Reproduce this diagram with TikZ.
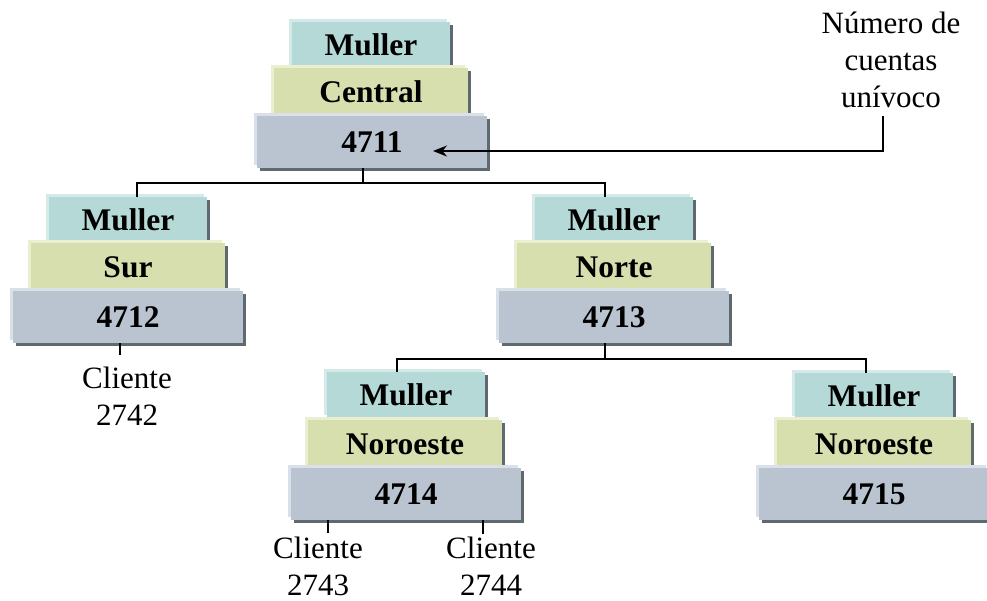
\documentclass[tikz,border=0pt]{standalone}
\usepackage{fontspec}
\setmainfont{Liberation Serif}
\usetikzlibrary{shadows,arrows.meta}
\definecolor{cMul}{HTML}{B4D9D6}
\definecolor{cMulL}{HTML}{D4EAE8}
\definecolor{cMid}{HTML}{D7DFAE}
\definecolor{cMidL}{HTML}{EAEFD2}
\definecolor{cNum}{HTML}{BAC4D0}
\definecolor{cNumL}{HTML}{DAE0E8}
\definecolor{cSh}{HTML}{5E6970}
\tikzset{
  tier/.style={rectangle, inner sep=0pt, anchor=north,
    font=\fontsize{31.5}{36}\selectfont\bfseries,
    general shadow={shadow xshift=3pt, shadow yshift=-3pt, fill=cSh}},
  mulbox/.style={tier, minimum width=158pt, minimum height=46pt, fill=cMul,
    general shadow={shadow xshift=-3pt, shadow yshift=3pt, fill=cMulL}},
  midbox/.style={tier, minimum width=194pt, minimum height=48pt, fill=cMid,
    general shadow={shadow xshift=-3pt, shadow yshift=3pt, fill=cMidL}},
  numbox/.style={tier, minimum width=230pt, minimum height=52pt, fill=cNum,
    general shadow={shadow xshift=-3pt, shadow yshift=3pt, fill=cNumL}},
  lbl/.style={inner sep=0pt, align=center, font=\fontsize{31}{37}\selectfont},
  conn/.style={line width=1.8pt, black}
}
\begin{document}
\begin{tikzpicture}[x=1pt,y=-1pt]
\useasboundingbox (0,0) rectangle (987,600);
% group 4711
\node[mulbox] (m1) at (371,22) {Muller};
\node[midbox] (t1) at (371,68) {Central};
\node[numbox] (n1) at (372,116) {4711};
% group 4712
\node[mulbox] (m2) at (128,197) {Muller};
\node[midbox] (t2) at (128,243) {Sur};
\node[numbox] (n2) at (128,291) {4712};
% group 4713
\node[mulbox] (m3) at (614,197) {Muller};
\node[midbox] (t3) at (614,243) {Norte};
\node[numbox] (n3) at (614,291) {4713};
% group 4714
\node[mulbox] (m4) at (406,372) {Muller};
\node[midbox] (t4) at (405,420) {Noroeste};
\node[numbox] (n4) at (406,468) {4714};
% group 4715
\node[mulbox] (m5) at (874,373) {Muller};
\node[midbox] (t5) at (874,420) {Noroeste};
\node[numbox] (n5) at (874,468) {4715};
% labels
\node[lbl] (c2) at (127,396) {Cliente\\2742};
\node[lbl] (c3) at (318,566) {Cliente\\2743};
\node[lbl] (c4) at (491,566) {Cliente\\2744};
\node[lbl] (lab) at (891,60) {Número de\\cuentas\\unívoco};
% connectors
\coordinate (b1) at (363,183);
\draw[conn] (n1.south -| b1) -- (b1);
\draw[conn] ([xshift=9pt]m2.north) |- (b1) -| ([xshift=-9pt]m3.north);
\coordinate (b2) at (605,359);
\draw[conn] (n3.south -| b2) -- (b2);
\draw[conn] ([xshift=-9pt]m4.north) |- (b2) -| ([xshift=-8pt]m5.north);
\draw[conn, shorten >=12pt] ([xshift=-8pt]n2.south) -- ([xshift=-8pt]n2.south |- c2.north);
\draw[conn, shorten >=3pt] ([xshift=-78pt]n4.south) -- ([xshift=-78pt]n4.south |- c3.north);
\draw[conn, shorten >=3pt] ([xshift=77pt]n4.south) -- ([xshift=77pt]n4.south |- c4.north);
\coordinate (tip) at (433,151);
\draw[conn, -{Stealth[length=14pt,width=11pt]}] ([xshift=-8pt,yshift=-8pt]lab.south) |- (tip);
\end{tikzpicture}
\end{document}
